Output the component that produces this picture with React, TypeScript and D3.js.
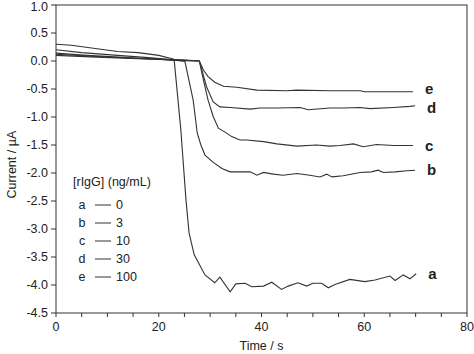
import React from 'react';
import * as d3 from 'd3';

// [time (s), current (µA)]
const curveA: [number, number][] = [
  [0, 0.1], [8, 0.07], [16, 0.04], [23, 0.02], [24.3, -1.23], [25.3, -2.48], [25.9, -3.07],
  [26.9, -3.46], [29.0, -3.82], [30.9, -3.96], [31.9, -3.86], [33.9, -4.12], [35.0, -3.98],
  [36.8, -3.97], [38.1, -4.03], [40.4, -4.02], [42.0, -3.95], [43.9, -4.08], [45.2, -4.02],
  [47.1, -3.96], [48.8, -4.02], [50.0, -3.97], [51.7, -3.97], [53.0, -4.05], [54.3, -3.99],
  [57.2, -3.9], [60.1, -3.94], [62.1, -3.91], [65.0, -3.84], [66.0, -3.92], [67.6, -3.82],
  [68.9, -3.89], [70.1, -3.8],
];
const curveB: [number, number][] = [
  [0, 0.12], [8, 0.08], [15, 0.05], [23, 0.02], [25.1, -0.01], [26.7, -0.7], [27.5, -1.29],
  [28.2, -1.5], [29.0, -1.68], [30.6, -1.81], [32.3, -1.92], [33.9, -1.98], [35.8, -1.98],
  [37.8, -1.98], [39.1, -2.04], [40.4, -1.99], [42.3, -2.02], [44.2, -2.04], [46.9, -2.01],
  [49.4, -2.04], [51.4, -2.07], [52.7, -2.02], [53.7, -2.07], [55.9, -2.05], [59.2, -1.99],
  [61.4, -1.98], [62.7, -1.95], [63.7, -1.99], [66.0, -1.98], [68.3, -1.96], [69.9, -1.95],
];
const curveC: [number, number][] = [
  [0, 0.14], [6, 0.1], [14, 0.06], [20, 0.03], [23, 0.01], [27.9, 0], [28.4, -0.22],
  [29.6, -0.7], [30.6, -0.99], [31.6, -1.2], [32.9, -1.27], [34.2, -1.35], [35.8, -1.41],
  [37.1, -1.41], [40.4, -1.44], [43.0, -1.48], [46.9, -1.52], [50.7, -1.5], [53.3, -1.52],
  [55.3, -1.51], [57.9, -1.48], [59.8, -1.53], [62.4, -1.49], [65.7, -1.51], [69.5, -1.51],
];
const curveD: [number, number][] = [
  [0, 0.2], [5, 0.15], [12, 0.1], [18, 0.06], [23, 0.02], [27.9, 0], [28.4, -0.16],
  [29.3, -0.46], [30.6, -0.73], [31.9, -0.82], [33.9, -0.83], [37.8, -0.86], [39.7, -0.84],
  [43.0, -0.84], [47.5, -0.83], [49.1, -0.87], [53.3, -0.84], [55.9, -0.84], [59.2, -0.83],
  [61.1, -0.85], [65.7, -0.83], [68.9, -0.81], [69.9, -0.8],
];
const curveE: [number, number][] = [
  [0, 0.3], [3, 0.28], [8, 0.22], [12, 0.17], [16, 0.15], [20, 0.1], [23, 0.03], [27.9, 0],
  [28.7, -0.16], [29.6, -0.28], [30.9, -0.38], [32.6, -0.45], [35.2, -0.47], [39.1, -0.52],
  [44.9, -0.53], [46.9, -0.52], [53.3, -0.53], [59.2, -0.53], [60.1, -0.55], [69.5, -0.55],
];

const curves = [curveA, curveB, curveC, curveD, curveE];
const curveLabels = ['a', 'b', 'c', 'd', 'e'];
const labelShift = [5, 5, 5, 7, 2];
const concentrations = ['0', '3', '10', '30', '100'];
const xTicks = [0, 20, 40, 60, 80];
const xMinorTicks = d3.range(0, 81, 5);
const yTicks = d3.range(-4.5, 1.01, 0.5);

const W = 474;
const H = 354;
const left = 56;
const right = 467;
const top = 5;
const bottom = 313;

const x = d3.scaleLinear().domain([0, 80]).range([left, right]);
const y = d3.scaleLinear().domain([-4.5, 1]).range([bottom, top]);
const line = d3.line<[number, number]>().x(d => x(d[0])).y(d => y(d[1]));

const ink = '#333';
const font = 'Liberation Sans, Arial, sans-serif';

export default function App() {
  return (
    <svg width={W} height={H} style={{ position: 'absolute', left: 0, top: 0, background: '#fff' }}
      fontFamily={font}>
      <rect x={left} y={top} width={right - left} height={bottom - top} fill="none" stroke={ink} strokeWidth={1} />
      {xMinorTicks.map(t => (
        <line key={'xt' + t} x1={x(t)} x2={x(t)} y1={bottom} y2={bottom + 4} stroke={ink} />
      ))}
      {xTicks.map(t => (
        <text key={'xl' + t} x={x(t)} y={bottom + 18} textAnchor="middle" fontSize={12.5} fill="#222">{t}</text>
      ))}
      {yTicks.map(v => (
        <g key={'y' + v}>
          <line x1={left - 5} x2={left} y1={y(v)} y2={y(v)} stroke={ink} />
          <text x={left - 8} y={Math.max(y(v) + 4, 11)} textAnchor="end" fontSize={12.5} fill="#222">{v.toFixed(1)}</text>
        </g>
      ))}
      <text x={x(40)} y={350} textAnchor="middle" fontSize={12.5} fill="#222">Time / s</text>
      <text transform={`translate(16,${y(-1.85)}) rotate(-90)`} textAnchor="middle" fontSize={12.5} fill="#222">Current / µA</text>

      {curves.map((c, i) => (
        <path key={'c' + i} d={line(c) ?? ''} fill="none" stroke={ink} strokeWidth={1.1} />
      ))}
      {curves.map((c, i) => {
        const last = c[c.length - 1];
        return (
          <text key={'cl' + i} x={x(last[0]) + 12} y={y(last[1]) + labelShift[i]} fontSize={15} fontWeight="bold" fill="#222">
            {curveLabels[i]}
          </text>
        );
      })}

      <text x={73} y={186} fontSize={12.5} fill="#222">[rIgG] (ng/mL)</text>
      {curveLabels.map((l, i) => {
        const cy = 205 + i * 18;
        return (
          <g key={'lg' + l}>
            <text x={82} y={cy + 4} textAnchor="middle" fontSize={12.5} fill="#222">{l}</text>
            <line x1={95} x2={111} y1={cy} y2={cy} stroke={ink} />
            <text x={116} y={cy + 4} fontSize={12.5} fill="#222">{concentrations[i]}</text>
          </g>
        );
      })}
    </svg>
  );
}
